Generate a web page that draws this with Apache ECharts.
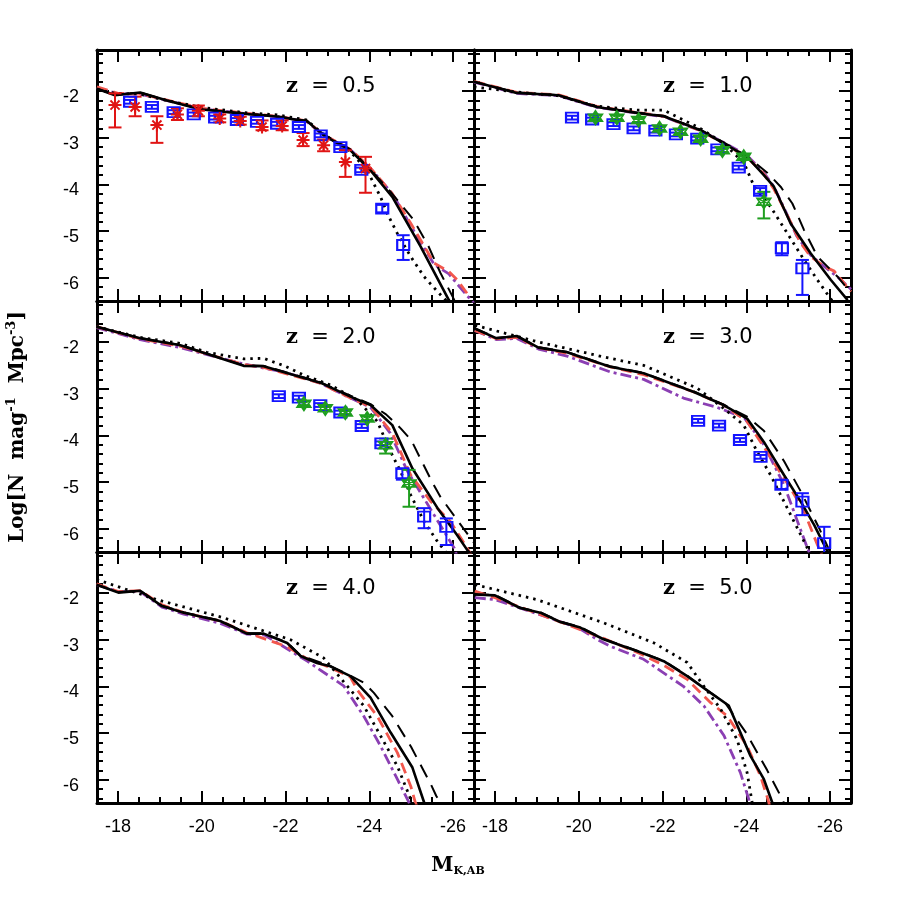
<!DOCTYPE html>
<html>
<head>
<meta charset="utf-8">
<script src="https://cdn.jsdelivr.net/npm/echarts@6/dist/echarts.min.js"></script>
<style>
  html, body { margin: 0; background: #fff; }
  #chart { width: 900px; height: 900px; }
</style>
</head>
<body>
<div id="chart"></div>
<script>
// ---- data: [M_K, logN] for curves, [M_K, logN, low, high] for points ----
const z05Solid = [[-17.5,-1.95],[-17.93,-2.09],[-18.53,-2.03],[-19.17,-2.20],[-19.96,-2.39],[-20.92,-2.48],[-21.72,-2.54],[-22.52,-2.65],[-22.91,-2.95],[-23.55,-3.27],[-24.03,-3.70],[-24.55,-4.27],[-25.23,-5.34],[-25.90,-6.48],[-26.0,-6.62]];
const z05Long = [[-17.5,-1.95],[-17.93,-2.08],[-18.53,-2.03],[-19.17,-2.2],[-19.96,-2.38],[-20.92,-2.47],[-21.72,-2.53],[-22.52,-2.64],[-22.91,-2.93],[-23.55,-3.25],[-24.03,-3.68],[-24.5,-4.15],[-25.05,-4.75],[-25.4,-5.3],[-25.7,-5.9],[-26.1,-6.6]];
const z05Dot = [[-17.5,-1.97],[-18.0,-2.06],[-18.5,-2.06],[-19.2,-2.21],[-20.0,-2.35],[-21.0,-2.46],[-21.8,-2.51],[-22.5,-2.62],[-22.9,-2.92],[-23.55,-3.3],[-23.95,-3.7],[-24.11,-3.99],[-24.27,-4.27],[-24.43,-4.63],[-24.67,-5.05],[-24.99,-5.55],[-25.31,-5.98],[-25.63,-6.30],[-25.9,-6.55]];
const z05Red = [[-17.5,-1.91],[-18.0,-2.05],[-18.5,-2.05],[-19.2,-2.2],[-20.0,-2.37],[-21.0,-2.47],[-21.8,-2.54],[-22.5,-2.64],[-22.9,-2.93],[-23.55,-3.25],[-24.03,-3.65],[-24.55,-4.2],[-25.0,-4.85],[-25.55,-5.69],[-25.9,-5.87],[-26.1,-6.05],[-26.42,-6.44]];
const z05Purple = [[-17.5,-1.93],[-18.0,-2.06],[-18.5,-2.06],[-19.2,-2.21],[-20.0,-2.38],[-21.0,-2.48],[-21.8,-2.55],[-22.5,-2.65],[-22.9,-2.94],[-23.55,-3.26],[-24.03,-3.66],[-24.55,-4.2],[-25.0,-4.9],[-25.55,-5.72],[-25.9,-5.92],[-26.3,-6.35],[-26.5,-6.55]];
const z05Blue = [[-18.29,-2.23,-2.27,-2.19],[-18.81,-2.34,-2.38,-2.30],[-19.33,-2.45,-2.49,-2.41],[-19.81,-2.50,-2.54,-2.46],[-20.32,-2.57,-2.61,-2.53],[-20.84,-2.62,-2.66,-2.58],[-21.32,-2.66,-2.70,-2.62],[-21.80,-2.70,-2.74,-2.66],[-22.32,-2.77,-2.81,-2.73],[-22.84,-2.95,-2.99,-2.91],[-23.31,-3.20,-3.24,-3.16],[-23.81,-3.69,-3.74,-3.64],[-24.31,-4.52,-4.60,-4.44],[-24.81,-5.30,-5.62,-5.09]];
const z05Red_pts = [[-17.93,-2.30,-2.78,-2.05],[-18.41,-2.34,-2.54,-2.12],[-18.93,-2.73,-3.11,-2.54],[-19.42,-2.50,-2.62,-2.37],[-19.92,-2.42,-2.54,-2.31],[-20.43,-2.59,-2.67,-2.50],[-20.92,-2.64,-2.72,-2.55],[-21.44,-2.77,-2.84,-2.63],[-21.92,-2.75,-2.84,-2.63],[-22.42,-3.05,-3.18,-2.90],[-22.91,-3.16,-3.29,-3.04],[-23.43,-3.52,-3.84,-3.27],[-23.91,-3.66,-4.18,-3.41]];

const z10Solid = [[-17.5,-1.80],[-18.52,-2.04],[-19.52,-2.09],[-20.43,-2.34],[-21.39,-2.47],[-22.03,-2.54],[-22.91,-2.84],[-23.46,-3.12],[-24.02,-3.41],[-24.42,-3.80],[-24.66,-4.05],[-25.06,-4.84],[-25.54,-5.48],[-26.02,-6.05],[-26.42,-6.48]];
const z10Long = [[-17.5,-1.80],[-18.52,-2.03],[-19.52,-2.09],[-20.43,-2.33],[-21.39,-2.46],[-22.03,-2.53],[-22.91,-2.83],[-23.46,-3.1],[-24.02,-3.40],[-24.50,-3.75],[-24.82,-4.05],[-25.10,-4.41],[-25.38,-4.98],[-25.70,-5.55],[-26.18,-5.98],[-26.5,-6.33]];
const z10Dot = [[-17.5,-1.91],[-18.5,-2.02],[-19.5,-2.1],[-20.4,-2.32],[-21.39,-2.41],[-22.03,-2.41],[-22.9,-2.8],[-23.46,-3.12],[-23.95,-3.55],[-24.19,-4.05],[-24.58,-4.48],[-24.98,-5.05],[-25.38,-5.62],[-25.70,-6.05],[-25.98,-6.41],[-26.1,-6.55]];
const z10Red = [[-17.5,-1.79],[-18.52,-2.03],[-19.52,-2.08],[-20.43,-2.33],[-21.39,-2.46],[-22.03,-2.54],[-22.91,-2.85],[-23.46,-3.12],[-24.02,-3.42],[-24.42,-3.78],[-24.66,-4.1],[-25.0,-4.7],[-25.3,-5.26],[-25.54,-5.55],[-25.86,-5.76],[-26.1,-5.86],[-26.5,-6.3]];
const z10Purple = [[-17.5,-1.81],[-18.52,-2.05],[-19.52,-2.1],[-20.43,-2.35],[-21.39,-2.47],[-22.03,-2.55],[-22.91,-2.85],[-23.46,-3.1],[-24.02,-3.38],[-24.42,-3.75],[-24.66,-4.05],[-24.95,-4.6],[-25.2,-5.1],[-25.54,-5.52],[-25.86,-5.76],[-26.2,-6.0],[-26.5,-6.25]];
const z10Blue = [[-19.84,-2.57,-2.61,-2.53],[-20.32,-2.61,-2.65,-2.57],[-20.83,-2.71,-2.75,-2.67],[-21.31,-2.80,-2.84,-2.76],[-21.83,-2.85,-2.89,-2.81],[-22.32,-2.93,-2.97,-2.89],[-22.83,-3.02,-3.06,-2.98],[-23.31,-3.25,-3.29,-3.21],[-23.82,-3.64,-3.68,-3.60],[-24.33,-4.14,-4.20,-4.08],[-24.85,-5.37,-5.52,-5.24],[-25.34,-5.80,-6.37,-5.62]];
const z10Green = [[-20.40,-2.57,-2.62,-2.52],[-20.91,-2.57,-2.62,-2.52],[-21.43,-2.62,-2.67,-2.57],[-21.93,-2.80,-2.85,-2.75],[-22.43,-2.87,-2.92,-2.82],[-22.91,-3.02,-3.07,-2.97],[-23.43,-3.27,-3.32,-3.22],[-23.94,-3.41,-3.46,-3.36],[-24.42,-4.37,-4.73,-4.16]];

const z20Solid = [[-17.49,-1.67],[-18.53,-1.92],[-19.49,-2.07],[-21.0,-2.51],[-21.48,-2.52],[-22.83,-2.87],[-23.55,-3.17],[-24.03,-3.35],[-24.55,-3.78],[-25.03,-4.71],[-25.63,-5.56],[-26.10,-6.14],[-26.34,-6.46],[-26.5,-6.62]];
const z20Long = [[-17.49,-1.67],[-18.53,-1.91],[-19.49,-2.06],[-21.0,-2.5],[-21.48,-2.51],[-22.83,-2.86],[-23.55,-3.15],[-24.03,-3.33],[-24.4,-3.55],[-24.75,-3.85],[-25.0,-4.1],[-25.25,-4.55],[-25.5,-5.0],[-25.7,-5.32],[-26.3,-6.06],[-26.5,-6.3]];
const z20Dot = [[-17.49,-1.67],[-18.53,-1.9],[-19.5,-2.03],[-20.12,-2.22],[-21.0,-2.36],[-21.48,-2.35],[-22.0,-2.52],[-22.44,-2.71],[-23.07,-2.92],[-23.71,-3.24],[-24.19,-3.70],[-24.51,-4.35],[-24.75,-4.78],[-24.99,-5.28],[-25.31,-5.85],[-25.63,-6.28],[-25.79,-6.46],[-25.9,-6.6]];
const z20Red = [[-17.49,-1.67],[-18.53,-1.93],[-19.49,-2.09],[-21.0,-2.48],[-21.5,-2.55],[-22.83,-2.88],[-23.55,-3.2],[-24.03,-3.38],[-24.55,-3.95],[-24.99,-4.85],[-25.47,-5.42],[-25.94,-5.85],[-26.34,-6.42],[-26.45,-6.6]];
const z20Purple = [[-17.49,-1.69],[-18.53,-1.95],[-19.49,-2.12],[-21.0,-2.47],[-22.0,-2.65],[-22.83,-2.88],[-23.55,-3.2],[-24.03,-3.4],[-24.5,-3.95],[-24.9,-4.75],[-25.55,-5.71],[-26.03,-6.42],[-26.1,-6.6]];
const z20Blue = [[-21.84,-3.16,-3.20,-3.12],[-22.32,-3.19,-3.23,-3.15],[-22.83,-3.35,-3.39,-3.31],[-23.31,-3.51,-3.55,-3.47],[-23.82,-3.80,-3.84,-3.76],[-24.29,-4.17,-4.21,-4.13],[-24.79,-4.81,-4.95,-4.72],[-25.31,-5.74,-5.99,-5.56],[-25.84,-5.96,-6.35,-5.78]];
const z20Green = [[-22.44,-3.32,-3.37,-3.27],[-22.95,-3.42,-3.47,-3.37],[-23.43,-3.51,-3.56,-3.46],[-23.95,-3.64,-3.69,-3.59],[-24.39,-4.21,-4.39,-4.07],[-24.95,-5.03,-5.53,-4.74]];

const z30Solid = [[-17.52,-1.71],[-18.04,-1.92],[-18.52,-1.87],[-19.04,-2.12],[-19.72,-2.22],[-20.75,-2.53],[-21.55,-2.67],[-22.75,-3.07],[-23.46,-3.35],[-24.02,-3.64],[-24.42,-4.14],[-24.90,-4.85],[-25.30,-5.42],[-25.62,-5.92],[-25.86,-6.35],[-26.0,-6.6]];
const z30Long = [[-17.52,-1.71],[-18.04,-1.91],[-18.52,-1.87],[-19.04,-2.11],[-19.72,-2.21],[-20.75,-2.52],[-21.55,-2.66],[-22.75,-3.06],[-23.46,-3.34],[-24.02,-3.6],[-24.42,-3.9],[-24.9,-4.55],[-25.3,-5.2],[-25.74,-5.99],[-26.0,-6.5]];
const z30Dot = [[-17.52,-1.64],[-19.0,-1.99],[-20.6,-2.32],[-21.55,-2.50],[-22.83,-2.99],[-23.46,-3.42],[-23.94,-3.78],[-24.26,-4.35],[-24.58,-4.85],[-24.9,-5.42],[-25.22,-5.99],[-25.46,-6.42],[-25.55,-6.6]];
const z30Red = [[-17.52,-1.75],[-18.04,-1.93],[-18.52,-1.9],[-19.04,-2.12],[-19.72,-2.24],[-20.75,-2.53],[-21.55,-2.7],[-22.75,-3.07],[-23.46,-3.35],[-24.02,-3.7],[-24.42,-4.25],[-25.06,-5.14],[-25.38,-5.63],[-25.7,-6.35],[-25.8,-6.55]];
const z30Purple = [[-17.52,-1.75],[-18.04,-1.95],[-18.52,-1.92],[-19.04,-2.15],[-19.72,-2.3],[-20.75,-2.64],[-21.55,-2.8],[-22.5,-3.2],[-23.3,-3.4],[-23.95,-3.62],[-24.42,-4.2],[-24.9,-5.06],[-25.46,-6.42],[-25.55,-6.6]];
const z30Blue = [[-22.85,-3.69,-3.73,-3.65],[-23.35,-3.79,-3.83,-3.75],[-23.85,-4.10,-4.14,-4.06],[-24.34,-4.46,-4.50,-4.42],[-24.84,-5.06,-5.15,-4.95],[-25.34,-5.42,-5.71,-5.24],[-25.86,-6.31,-6.7,-5.96]];

const z40Solid = [[-17.49,-1.82],[-18.01,-1.99],[-18.53,-1.95],[-19.05,-2.28],[-19.57,-2.42],[-20.44,-2.60],[-21.08,-2.87],[-21.48,-2.87],[-22.04,-3.07],[-22.36,-3.35],[-22.75,-3.5],[-23.07,-3.57],[-23.55,-3.78],[-24.03,-4.24],[-24.51,-4.99],[-25.03,-5.74],[-25.31,-6.49],[-25.35,-6.6]];
const z40Long = [[-17.49,-1.82],[-18.01,-1.98],[-18.53,-1.95],[-19.05,-2.27],[-19.57,-2.41],[-20.44,-2.59],[-21.08,-2.86],[-21.48,-2.86],[-22.04,-3.06],[-22.36,-3.34],[-23.07,-3.56],[-23.55,-3.77],[-23.87,-3.92],[-24.11,-4.14],[-24.55,-4.64],[-25.0,-5.3],[-25.47,-6.1],[-25.6,-6.35],[-25.7,-6.5]];
const z40Dot = [[-17.49,-1.71],[-18.93,-2.14],[-20.52,-2.53],[-22.12,-3.0],[-22.91,-3.39],[-23.47,-3.99],[-23.87,-4.42],[-24.27,-5.06],[-24.67,-5.71],[-24.99,-6.42],[-25.1,-6.6]];
const z40Red = [[-17.49,-1.8],[-18.01,-1.97],[-18.53,-1.95],[-19.05,-2.25],[-19.57,-2.42],[-20.44,-2.6],[-21.08,-2.85],[-22.04,-3.15],[-22.5,-3.4],[-23.07,-3.6],[-23.55,-3.8],[-23.71,-4.07],[-24.19,-4.64],[-24.67,-5.42],[-24.99,-6.14],[-25.1,-6.49],[-25.15,-6.6]];
const z40Purple = [[-17.49,-1.82],[-18.01,-1.97],[-18.53,-1.97],[-19.05,-2.3],[-19.57,-2.45],[-20.44,-2.65],[-21.08,-2.88],[-21.5,-2.9],[-22.52,-3.46],[-23.39,-3.99],[-23.87,-4.64],[-24.27,-5.28],[-24.67,-5.99],[-24.95,-6.49],[-25.0,-6.6]];

const z50Solid = [[-17.52,-2.03],[-18.0,-2.05],[-18.60,-2.32],[-19.08,-2.42],[-19.56,-2.62],[-20.04,-2.74],[-20.59,-2.99],[-21.47,-3.27],[-22.03,-3.46],[-22.59,-3.78],[-23.15,-4.14],[-23.58,-4.41],[-24.10,-5.49],[-24.42,-5.99],[-24.62,-6.49],[-24.65,-6.6]];
const z50Long = [[-17.52,-2.03],[-18.0,-2.04],[-18.60,-2.31],[-19.08,-2.41],[-19.56,-2.61],[-20.04,-2.73],[-20.59,-2.98],[-21.47,-3.26],[-22.03,-3.45],[-22.59,-3.77],[-22.9,-3.98],[-23.5,-4.36],[-24.0,-5.0],[-24.5,-5.8],[-24.85,-6.4],[-24.95,-6.6]];
const z50Dot = [[-17.52,-1.82],[-19.0,-2.14],[-20.6,-2.64],[-21.8,-3.07],[-22.59,-3.49],[-22.99,-4.0],[-23.39,-4.49],[-23.78,-5.14],[-24.02,-5.85],[-24.14,-6.49],[-24.16,-6.6]];
const z50Red = [[-17.52,-1.96],[-18.0,-2.1],[-18.6,-2.3],[-19.56,-2.62],[-20.59,-2.97],[-21.47,-3.3],[-22.03,-3.55],[-22.59,-3.85],[-23.15,-4.35],[-23.55,-4.64],[-24.02,-5.28],[-24.34,-5.92],[-24.54,-6.49],[-24.56,-6.6]];
const z50Purple = [[-17.52,-2.10],[-18.0,-2.14],[-19.2,-2.5],[-20.0,-2.75],[-20.43,-2.99],[-20.75,-3.14],[-21.55,-3.42],[-22.5,-4.0],[-22.99,-4.42],[-23.47,-5.06],[-23.86,-5.85],[-24.06,-6.42],[-24.08,-6.6]];

const redshifts = ['0.5', '1.0', '2.0', '3.0', '4.0', '5.0'];

// ---- layout ----
const colLeft = [97, 474];
const rowTop = [50, 301, 552];
const panelW = 377, panelH = 251;

const panels = [
  { solid: z05Solid, long: z05Long, dot: z05Dot, red: z05Red, purple: z05Purple, blue: z05Blue, ast: z05Red_pts },
  { solid: z10Solid, long: z10Long, dot: z10Dot, red: z10Red, purple: z10Purple, blue: z10Blue, green: z10Green },
  { solid: z20Solid, long: z20Long, dot: z20Dot, red: z20Red, purple: z20Purple, blue: z20Blue, green: z20Green },
  { solid: z30Solid, long: z30Long, dot: z30Dot, red: z30Red, purple: z30Purple, blue: z30Blue },
  { solid: z40Solid, long: z40Long, dot: z40Dot, red: z40Red, purple: z40Purple },
  { solid: z50Solid, long: z50Long, dot: z50Dot, red: z50Red, purple: z50Purple }
];

const BLUE = '#1414ff', RED_PT = '#e01414', GREEN = '#1f9e1f';
const asteriskPath = 'path://M10,0L10,20M0,10L20,10M3,3L17,17M3,17L17,3';
const starPath = 'path://M10,0L18.66,15L1.34,15ZM10,20L1.34,5L18.66,5ZM10,0L10,20M1.34,5L18.66,15M1.34,15L18.66,5';

const grids = [], xAxes = [], yAxes = [], series = [], graphics = [];

const tickStyle = { color: '#000', width: 2 };

panels.forEach((p, i) => {
  const col = i % 2, row = Math.floor(i / 2);
  grids.push({ left: colLeft[col], top: rowTop[row], width: panelW, height: panelH, outerBoundsMode: 'none', containLabel: false });

  ['bottom', 'top'].forEach(pos => {
    xAxes.push({
      gridIndex: i, type: 'value', position: pos, inverse: true,
      min: -26.5, max: -17.5, splitNumber: 4,
      axisLine: { show: true, onZero: false, lineStyle: { color: '#000', width: 3 } },
      axisTick: { show: true, inside: true, length: 12, lineStyle: tickStyle },
      minorTick: { show: true, splitNumber: 4, length: 6, lineStyle: tickStyle },
      splitLine: { show: false },
      axisLabel: {
        show: pos === 'bottom' && row === 2, showMinLabel: false, showMaxLabel: false,
        color: '#000', fontSize: 18, fontFamily: 'Liberation Sans', margin: 15
      }
    });
  });
  ['left', 'right'].forEach(pos => {
    yAxes.push({
      gridIndex: i, type: 'value', position: pos,
      min: -6.5, max: -1.12, splitNumber: 5,
      axisLine: { show: true, onZero: false, lineStyle: { color: '#000', width: 3 } },
      axisTick: { show: true, inside: true, length: 12, lineStyle: tickStyle },
      minorTick: { show: true, splitNumber: 5, length: 6, lineStyle: tickStyle },
      splitLine: { show: false },
      axisLabel: {
        show: pos === 'left' && col === 0, showMinLabel: false, showMaxLabel: false,
        color: '#000', fontSize: 18, fontFamily: 'Liberation Sans', margin: 18,
        verticalAlign: 'top', lineHeight: 12
      }
    });
  });

  const xi = 2 * i;
  const line = (data, lineStyle, z) => ({
    type: 'line', xAxisIndex: xi, yAxisIndex: xi, data, symbol: 'none',
    clip: true, silent: true, z, lineStyle
  });
  series.push(line(p.purple, { color: '#8b3fb3', width: 2.8, type: [11, 4, 3, 4] }, 2));
  series.push(line(p.red, { color: '#f2574d', width: 2.8, type: [11, 6] }, 2));
  series.push(line(p.dot, { color: '#000', width: 2.8, type: [2.5, 5] }, 3));
  series.push(line(p.long, { color: '#000', width: 2, type: [14, 9] }, 3));
  series.push(line(p.solid, { color: '#000', width: 2.6 }, 4));

  const errBars = (data, color, capW) => ({
    type: 'custom', xAxisIndex: xi, yAxisIndex: xi, clip: true, silent: true, z: 5,
    data, encode: { x: 0, y: 1 },
    renderItem: (params, api) => {
      const lo = api.coord([api.value(0), api.value(2)]);
      const hi = api.coord([api.value(0), api.value(3)]);
      const hw = capW / 2;
      const style = { stroke: color, lineWidth: 2 };
      return {
        type: 'group', children: [
          { type: 'line', shape: { x1: lo[0], y1: lo[1], x2: hi[0], y2: hi[1] }, style },
          { type: 'line', shape: { x1: lo[0] - hw, y1: lo[1], x2: lo[0] + hw, y2: lo[1] }, style },
          { type: 'line', shape: { x1: hi[0] - hw, y1: hi[1], x2: hi[0] + hw, y2: hi[1] }, style }
        ]
      };
    }
  });
  const points = (data, symbol, size, color, bw) => ({
    type: 'scatter', xAxisIndex: xi, yAxisIndex: xi, clip: true, silent: true, z: 6,
    data: data.map(d => [d[0], d[1]]), symbol, symbolSize: size,
    itemStyle: { color: 'rgba(0,0,0,0)', borderColor: color, borderWidth: bw, opacity: 1 }
  });

  if (p.blue) {
    series.push(errBars(p.blue, BLUE, 13));
    series.push(points(p.blue, 'rect', [12, 10], BLUE, 2));
  }
  if (p.ast) {
    series.push(errBars(p.ast, RED_PT, 13));
    series.push(points(p.ast, asteriskPath, 13, RED_PT, 2));
  }
  if (p.green) {
    series.push(errBars(p.green, GREEN, 13));
    series.push(points(p.green, starPath, 14, GREEN, 1.5));
  }

  graphics.push({
    type: 'text', x: colLeft[col] + 189, y: rowTop[row] + 37,
    style: {
      text: '{z|z}{n|  =  ' + redshifts[i] + '}',
      textVerticalAlign: 'middle', verticalAlign: 'middle',
      rich: {
        z: { fontFamily: 'DejaVu Serif', fontWeight: 'bold', fontSize: 21, fill: '#000' },
        n: { fontFamily: 'DejaVu Sans', fontSize: 21, fill: '#000' }
      }
    }
  });
});

graphics.push({
  type: 'text', x: 18, y: 427, rotation: Math.PI / 2,
  style: {
    text: '{m|Log[N  mag}{s|-1}{m|  Mpc}{s|-3}{m|]}',
    textAlign: 'center', align: 'center', textVerticalAlign: 'middle', verticalAlign: 'middle',
    rich: {
      m: { fontFamily: 'DejaVu Serif', fontWeight: 'bold', fontSize: 20, lineHeight: 26, fill: '#000' },
      s: { fontFamily: 'DejaVu Serif', fontWeight: 'bold', fontSize: 13, lineHeight: 13, verticalAlign: 'top', fill: '#000' }
    }
  }
});
graphics.push({
  type: 'text', x: 458, y: 866,
  style: {
    text: '{m|M}{s|K,AB}',
    textAlign: 'center', align: 'center', textVerticalAlign: 'middle', verticalAlign: 'middle',
    rich: {
      m: { fontFamily: 'DejaVu Serif', fontWeight: 'bold', fontSize: 20, lineHeight: 22, fill: '#000' },
      s: { fontFamily: 'DejaVu Serif', fontWeight: 'bold', fontSize: 11, lineHeight: 11, verticalAlign: 'bottom', fill: '#000' }
    }
  }
});

const chart = echarts.init(document.getElementById('chart'), null, { renderer: 'canvas' });
chart.setOption({
  animation: false,
  backgroundColor: '#fff',
  grid: grids,
  xAxis: xAxes,
  yAxis: yAxes,
  series: series,
  graphic: graphics
});
</script>
</body>
</html>
